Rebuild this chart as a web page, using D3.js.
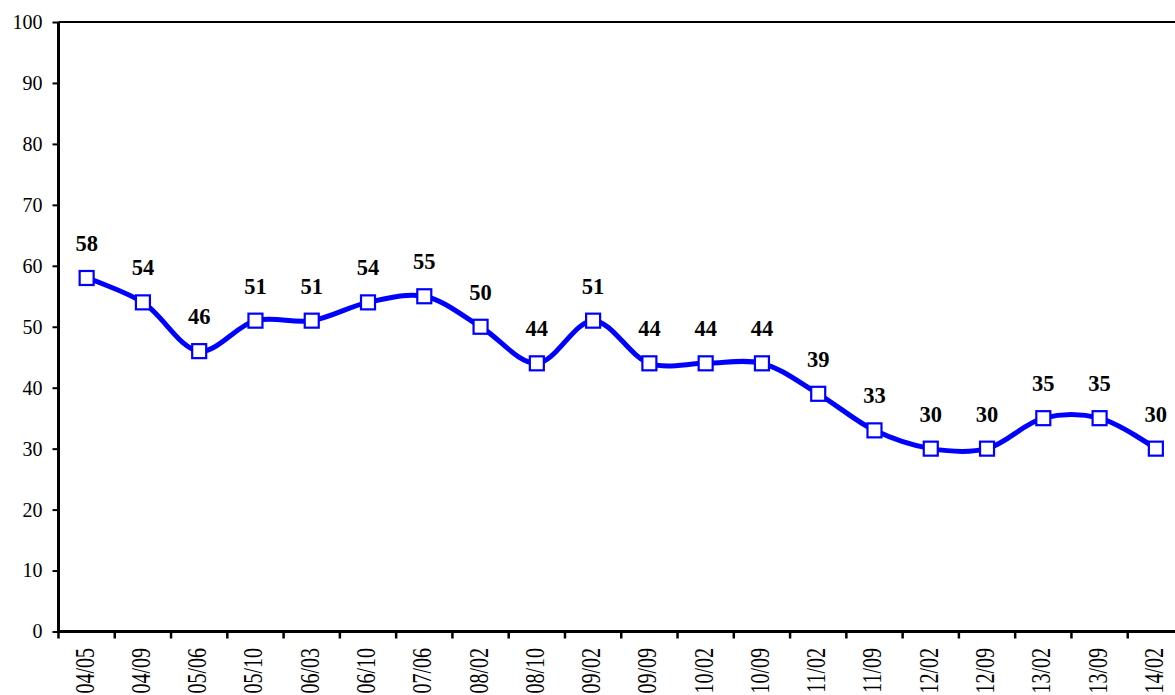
<!DOCTYPE html>
<html><head><meta charset="utf-8">
<script src="https://cdn.jsdelivr.net/npm/d3@7"></script>
<style>
html,body{margin:0;padding:0;background:#fff;overflow:hidden}
svg{display:block}
</style></head>
<body>
<svg id="chart" width="1175" height="695"></svg>
<script>
const categories = ["04/05","04/09","05/06","05/10","06/03","06/10","07/06","08/02","08/10","09/02","09/09","10/02","10/09","11/02","11/09","12/02","12/09","13/02","13/09","14/02"];
const values = [58,54,46,51,51,54,55,50,44,51,44,44,44,39,33,30,30,35,35,30];
const yTicks = [0,10,20,30,40,50,60,70,80,90,100];

const FONT = "'Liberation Serif', 'Times New Roman', Times, serif";
const svg = d3.select("#chart");
const pLeft = 58.5, pRight = 1184, pTop = 22, pBottom = 631.5;

const x = d3.scaleBand().domain(categories).range([pLeft, pRight]);
const y = d3.scaleLinear().domain([0,100]).range([pBottom, pTop]);

// top frame line
svg.append("line").attr("x1", pLeft).attr("x2", 1175).attr("y1", pTop).attr("y2", pTop)
  .attr("stroke","#000").attr("stroke-width",2);

// y axis
const yAxis = d3.axisLeft(y).tickValues(yTicks).tickSize(6).tickPadding(10);
const gy = svg.append("g").attr("transform", `translate(${pLeft},0)`).call(yAxis)
  .attr("font-family", FONT).attr("font-size", 20);
gy.select(".domain").attr("stroke","#000").attr("stroke-width",3).attr("d", `M0,${pTop}V${pBottom+1.5}`);
gy.selectAll(".tick line").attr("stroke","#000").attr("stroke-width",2);
gy.selectAll(".tick text").style("font-family", FONT).style("font-size","20px").attr("fill","#000");

// x axis
const xAxis = d3.axisBottom(x).tickSize(0).tickFormat("");
const gx = svg.append("g").attr("transform", `translate(0,${pBottom})`).call(xAxis);
gx.select(".domain").attr("stroke","#000").attr("stroke-width",3).attr("d", `M${pLeft-1.5},0H1175`);
// boundary ticks
const bounds = categories.map(c => x(c)).concat([x(categories[categories.length-1]) + x.bandwidth()]);
gx.selectAll("line.bt").data(bounds).enter().append("line").attr("class","bt")
  .attr("x1", d => d).attr("x2", d => d).attr("y1", 0).attr("y2", 7)
  .attr("stroke","#000").attr("stroke-width",2.5);
// rotated labels
svg.selectAll("text.xl").data(categories).enter().append("text").attr("class","xl")
  .attr("transform", d => `translate(${x(d) + x.bandwidth()/2 + 7},648) rotate(-90) scale(1,1.35)`)
  .attr("text-anchor","end").style("font-family", FONT).style("font-size","20px").attr("fill","#000")
  .text(d => d);

// line
const pts = categories.map((c,i) => [x(c) + x.bandwidth()/2, y(values[i])]);
svg.append("path").datum(pts)
  .attr("d", d3.line().curve(d3.curveCatmullRom.alpha(0.5)))
  .attr("fill","none").attr("stroke","#0000FF").attr("stroke-width",5);

// markers
const ms = 14;
svg.selectAll("rect.m").data(pts).enter().append("rect").attr("class","m")
  .attr("x", d => d[0]-ms/2).attr("y", d => d[1]-ms/2).attr("width", ms).attr("height", ms)
  .attr("fill","#fff").attr("stroke","#0000FF").attr("stroke-width",2.2);

// data labels
svg.selectAll("text.dl").data(values).enter().append("text").attr("class","dl")
  .attr("x", (d,i) => x(categories[i]) + x.bandwidth()/2)
  .attr("y", d => y(d) - 27)
  .attr("text-anchor","middle").style("font-family", FONT).style("font-size","22.5px")
  .style("font-weight","bold").attr("fill","#000")
  .text(d => d);
</script>
</body></html>
